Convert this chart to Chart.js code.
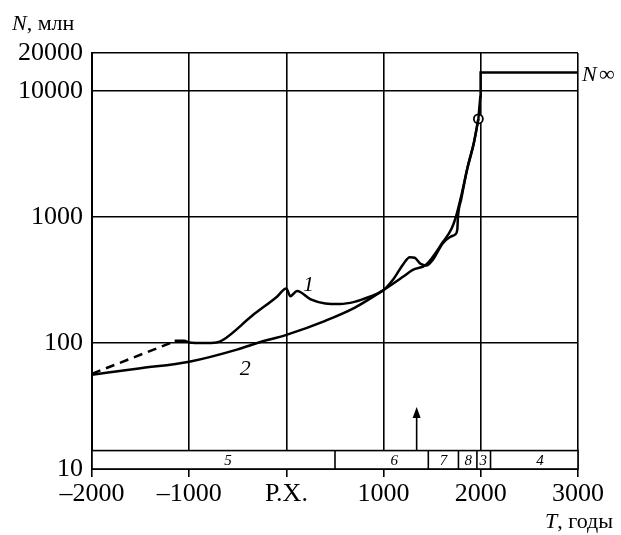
<!DOCTYPE html>
<html>
<head>
<meta charset="utf-8">
<script src="https://cdn.jsdelivr.net/npm/chart.js@4"></script>
<style>
  body { margin: 0; background: #fff; }
  #wrap { width: 621px; height: 535px; }
</style>
</head>
<body>
<div id="wrap"><canvas id="c"></canvas></div>
<script>
// curve 1 (historical data), solid part
const curve1T = [-1150, -1050, -1000, -850, -720, -650, -350, -100, 0, 40, 110, 250, 400, 550, 700, 850, 1000, 1100, 1200, 1270, 1320, 1380, 1440, 1500, 1610, 1680, 1730, 1758, 1765, 1800, 1860, 1930, 1975];
const curve1N = [104, 104, 101, 100, 101, 106, 165, 232, 271, 235, 258, 222, 206, 204, 212, 232, 263, 320, 420, 480, 475, 425, 412, 450, 620, 690, 720, 790, 1000, 1400, 2400, 3920, 6000];
// dashed beginning of curve 1
const dashT = [-2000, -1150];
const dashN = [57, 103];
// curve 2 (model)
const curve2T = [-2000, -1500, -1000, -500, -300, 0, 400, 700, 1000, 1200, 1300, 1440, 1610, 1700, 1744, 1800, 1860, 1930, 1975];
const curve2N = [56, 63, 71, 89, 100, 116, 150, 190, 263, 335, 380, 420, 632, 810, 1000, 1480, 2400, 3920, 6000];
// asymptote N-infinity
const asymT = [1975, 1995, 1998, 3000];
const asymN = [6000, 9000, 14000, 14000];
const nowT = [1975];
const nowN = [6000];

const yTicks = [10, 100, 1000, 10000, 20000];
const xTicks = [-2000, -1000, 0, 1000, 2000, 3000];

// bottom strip of periods
const periodBounds = [-2000, 500, 1460, 1770, 1960, 2100, 3000];
const periodLabels = ['5', '6', '7', '8', '3', '4'];
const periodLabelT = [-600, 1110, 1615, 1870, 2025, 2610];
const stripTop = 14;
const arrowT = 1340;
const arrowN = [14, 31];

const serif = '"Liberation Serif", "DejaVu Serif", serif';
const pts = (xs, ys) => xs.map((x, i) => ({ x: x, y: ys[i] }));

const extras = {
    id: 'extras',
    beforeDatasetsDraw(chart) {
        const { ctx, scales: { x, y } } = chart;
        ctx.save();
        const top = y.getPixelForValue(stripTop);
        const bot = y.getPixelForValue(10);
        ctx.fillStyle = '#fff';
        ctx.fillRect(x.left, top, x.right - x.left, bot - top);
        ctx.strokeStyle = '#000';
        ctx.lineWidth = 1.6;
        ctx.strokeRect(x.left, top, x.right - x.left, bot - top);
        periodBounds.slice(1, -1).forEach(t => {
            const px = x.getPixelForValue(t);
            ctx.beginPath();
            ctx.moveTo(px, top);
            ctx.lineTo(px, bot);
            ctx.stroke();
        });
        ctx.fillStyle = '#000';
        ctx.font = 'italic 15px ' + serif;
        ctx.textAlign = 'center';
        ctx.textBaseline = 'middle';
        periodLabels.forEach((l, i) => {
            ctx.fillText(l, x.getPixelForValue(periodLabelT[i]), (top + bot) / 2 + 1);
        });
        // arrow
        const ax = x.getPixelForValue(arrowT);
        const a0 = y.getPixelForValue(arrowN[0]);
        const a1 = y.getPixelForValue(arrowN[1]);
        ctx.lineWidth = 1.6;
        ctx.beginPath();
        ctx.moveTo(ax, a0);
        ctx.lineTo(ax, a1 + 6);
        ctx.stroke();
        ctx.beginPath();
        ctx.moveTo(ax, a1);
        ctx.lineTo(ax - 4, a1 + 11);
        ctx.lineTo(ax + 4, a1 + 11);
        ctx.closePath();
        ctx.fill();
        ctx.restore();
    },
    afterDraw(chart) {
        const { ctx, scales: { x, y } } = chart;
        ctx.save();
        ctx.fillStyle = '#000';
        ctx.textBaseline = 'alphabetic';
        ctx.textAlign = 'left';
        // curve labels
        ctx.font = 'italic 22px ' + serif;
        ctx.fillText('1', x.getPixelForValue(170), y.getPixelForValue(297) + 8);
        ctx.fillText('2', x.getPixelForValue(-480), y.getPixelForValue(65) + 8);
        // N infinity
        const ny = y.getPixelForValue(14000) + 8;
        ctx.fillText('N', 582, ny);
        ctx.font = '22px ' + serif;
        ctx.fillText('\u221e', 582 + ctx.measureText('N').width + 1, ny);
        // axis titles
        ctx.font = 'italic 22px ' + serif;
        ctx.fillText('N', 12, 30);
        let w = ctx.measureText('N').width;
        ctx.font = '22px ' + serif;
        ctx.fillText(', млн', 12 + w, 30);
        ctx.font = 'italic 22px ' + serif;
        ctx.fillText('T', 545, 528);
        w = ctx.measureText('T').width;
        ctx.font = '22px ' + serif;
        ctx.fillText(', годы', 545 + w, 528);
        ctx.restore();
    }
};

const lineStyle = { borderColor: '#000', borderWidth: 2.5, pointRadius: 0, showLine: true, fill: false, cubicInterpolationMode: 'monotone' };

new Chart(document.getElementById('c'), {
    type: 'scatter',
    data: {
        datasets: [
            Object.assign({ data: pts(curve1T, curve1N) }, lineStyle),
            Object.assign({ data: pts(dashT, dashN) }, lineStyle, { borderDash: [9, 6] }),
            Object.assign({ data: pts(curve2T, curve2N) }, lineStyle),
            Object.assign({ data: pts(asymT, asymN) }, lineStyle, { cubicInterpolationMode: 'default', tension: 0 }),
            { data: pts(nowT, nowN), showLine: false, pointRadius: 4.5, pointBackgroundColor: '#fff', pointBorderColor: '#000', pointBorderWidth: 1.8 }
        ]
    },
    options: {
        responsive: true,
        maintainAspectRatio: false,
        animation: false,
        layout: { padding: { top: 53, right: 43, left: 0, bottom: 0 } },
        plugins: { legend: { display: false }, tooltip: { enabled: false } },
        scales: {
            x: {
                type: 'linear',
                min: -2000,
                max: 3000,
                afterBuildTicks: s => { s.ticks = xTicks.map(v => ({ value: v })); },
                afterFit: s => { s.height = 66; },
                ticks: {
                    color: '#000',
                    padding: 2,
                    maxRotation: 0,
                    font: { family: serif, size: 26 },
                    callback: v => v === 0 ? 'Р.Х.' : (v < 0 ? '–' + (-v) : String(v))
                },
                grid: { color: '#000', lineWidth: 1.6, drawTicks: true, tickLength: 8, tickColor: '#000', tickWidth: 1.6 },
                border: { color: '#000', width: 2 }
            },
            y: {
                type: 'logarithmic',
                min: 10,
                max: 20000,
                afterBuildTicks: s => { s.ticks = yTicks.map(v => ({ value: v })); },
                afterFit: s => { s.width = 92; },
                ticks: {
                    color: '#000',
                    padding: 9,
                    font: { family: serif, size: 26 },
                    callback: v => String(v)
                },
                grid: { color: '#000', lineWidth: 1.6, drawTicks: false },
                border: { color: '#000', width: 2 }
            }
        }
    },
    plugins: [extras]
});
</script>
</body>
</html>
